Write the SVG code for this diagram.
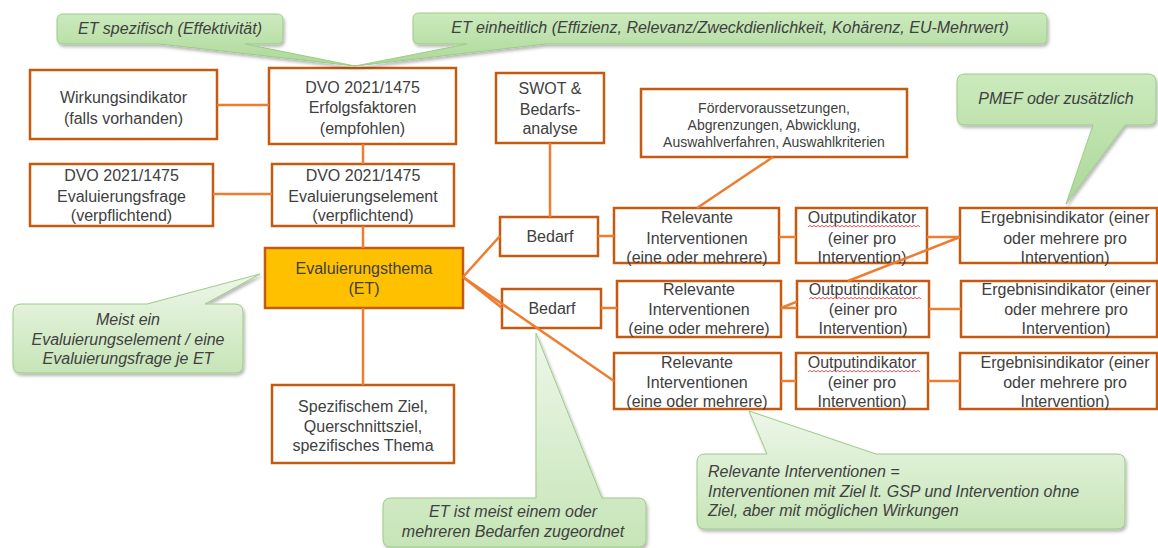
<svg xmlns="http://www.w3.org/2000/svg" width="1158" height="548" viewBox="0 0 1158 548">
<style>
.box{fill:#fff;stroke:#C55A11;stroke-width:2.5}
.et{fill:#FFC000;stroke:#C55A11;stroke-width:2.5}
.con{fill:none;stroke:#ED7D31;stroke-width:2.5}
.t{font-family:"Liberation Sans",Arial,sans-serif;font-size:16px;fill:#404040;text-anchor:middle}
.ts{font-family:"Liberation Sans",Arial,sans-serif;font-size:14px;fill:#404040;text-anchor:middle}
.ci{font-family:"Liberation Sans",Arial,sans-serif;font-size:16px;font-style:italic;fill:#404040}
.cA{fill:url(#gA);stroke:#9CCB86;stroke-width:1;filter:url(#sh)}
.cB{fill:url(#gB);stroke:#9CCB86;stroke-width:1;filter:url(#sh)}
.sq{fill:none;stroke:#E04040;stroke-width:0.9}
</style>
<defs>
<linearGradient id="gA" x1="0" y1="0" x2="0" y2="1">
<stop offset="0" stop-color="#CBEABD"/>
<stop offset="1" stop-color="#ADD899"/>
</linearGradient>
<linearGradient id="gB" x1="0" y1="0" x2="0" y2="1">
<stop offset="0" stop-color="#EEF7EA"/>
<stop offset="1" stop-color="#C6E5B7"/>
</linearGradient>
<filter id="sh" x="-10%" y="-10%" width="130%" height="140%">
<feDropShadow dx="1.5" dy="2.5" stdDeviation="1.8" flood-color="#000" flood-opacity="0.28"/>
</filter>
<path id="squig" d="M0,0 l2,-1.6 l2,1.6 l2,-1.6 l2,1.6 l2,-1.6 l2,1.6 l2,-1.6 l2,1.6 l2,-1.6 l2,1.6 l2,-1.6 l2,1.6 l2,-1.6 l2,1.6 l2,-1.6 l2,1.6 l2,-1.6 l2,1.6 l2,-1.6 l2,1.6 l2,-1.6 l2,1.6 l2,-1.6 l2,1.6 l2,-1.6 l2,1.6 l2,-1.6 l2,1.6 l2,-1.6 l2,1.6 l2,-1.6 l2,1.6 l2,-1.6 l2,1.6 l2,-1.6 l2,1.6 l2,-1.6 l2,1.6 l2,-1.6 l2,1.6 l2,-1.6 l2,1.6 l2,-1.6 l2,1.6 l2,-1.6 l2,1.6 l2,-1.6 l2,1.6 l2,-1.6 l2,1.6 l2,-1.6 l2,1.6 l2,-1.6 l2,1.6 l2,-1.6 l2,1.6"/>
</defs>
<rect width="1158" height="548" fill="#fff"/>

<g id="nodes">
<g id="n-wirkung"><rect class="box" x="30" y="70" width="187" height="69"/>
<text class="t" x="123.5" y="102.5">Wirkungsindikator</text><text class="t" x="123.5" y="123.5">(falls vorhanden)</text></g>
<g id="n-erfolg"><rect class="box" x="269" y="68" width="187" height="76"/>
<text class="t" x="362.5" y="92.5">DVO 2021/1475</text><text class="t" x="362.5" y="112.5">Erfolgsfaktoren</text><text class="t" x="362.5" y="133.5">(empfohlen)</text></g>
<g id="n-frage"><rect class="box" x="30" y="164" width="183" height="62"/>
<text class="t" x="121.5" y="180.5">DVO 2021/1475</text><text class="t" x="121.5" y="201.5">Evaluierungsfrage</text><text class="t" x="121.5" y="220.5">(verpflichtend)</text></g>
<g id="n-element"><rect class="box" x="272" y="164" width="182" height="62"/>
<text class="t" x="363" y="180.5">DVO 2021/1475</text><text class="t" x="363" y="201.5">Evaluierungselement</text><text class="t" x="363" y="220.5">(verpflichtend)</text></g>
<g id="n-et"><rect class="et" x="265" y="248" width="198" height="60"/>
<text class="t" x="364" y="273.5">Evaluierungsthema</text><text class="t" x="364" y="293.5">(ET)</text></g>
<g id="n-ziel"><rect class="box" x="272" y="385" width="182" height="78"/>
<text class="t" x="363" y="411.5">Spezifischem Ziel,</text><text class="t" x="363" y="431.5">Querschnittsziel,</text><text class="t" x="363" y="450.5">spezifisches Thema</text></g>
<g id="n-swot"><rect class="box" x="496" y="73" width="108" height="70"/>
<text class="t" x="550" y="93.5">SWOT &amp;</text><text class="t" x="550" y="114.5">Bedarfs-</text><text class="t" x="550" y="133.5">analyse</text></g>
<g id="n-foerder"><rect class="box" x="641" y="89" width="266" height="68"/>
<text class="ts" x="774" y="113">Fördervoraussetzungen,</text><text class="ts" x="774" y="130">Abgrenzungen, Abwicklung,</text><text class="ts" x="774" y="146.5">Auswahlverfahren, Auswahlkriterien</text></g>
<g id="n-bedarf1"><rect class="box" x="500" y="217" width="98" height="39"/>
<text class="t" x="550" y="241.5">Bedarf</text></g>
<g id="n-bedarf2"><rect class="box" x="502" y="289" width="99" height="39"/>
<text class="t" x="552" y="313.5">Bedarf</text></g>
<g id="n-rel1"><rect class="box" x="614" y="208" width="165" height="55"/>
<text class="t" x="697" y="222.5">Relevante</text><text class="t" x="697" y="243.5">Interventionen</text><text class="t" x="697" y="262.5">(eine oder mehrere)</text></g>
<g id="n-rel2"><rect class="box" x="617" y="281" width="164" height="56"/>
<text class="t" x="699" y="294.5">Relevante</text><text class="t" x="699" y="314.5">Interventionen</text><text class="t" x="699" y="333.5">(eine oder mehrere)</text></g>
<g id="n-rel3"><rect class="box" x="614" y="353" width="167" height="56"/>
<text class="t" x="697" y="367.5">Relevante</text><text class="t" x="697" y="387.5">Interventionen</text><text class="t" x="697" y="406.5">(eine oder mehrere)</text></g>
<g id="n-out1"><rect class="box" x="796" y="208" width="131" height="55"/>
<text class="t" x="862" y="222.5">Outputindikator</text><use href="#squig" class="sq" x="808" y="227"/><text class="t" x="862" y="243.5">(einer pro</text><text class="t" x="862" y="262.5">Intervention)</text></g>
<g id="n-out2"><rect class="box" x="797" y="281" width="132" height="56"/>
<text class="t" x="863" y="294.5">Outputindikator</text><use href="#squig" class="sq" x="809" y="299"/><text class="t" x="863" y="314.5">(einer pro</text><text class="t" x="863" y="333.5">Intervention)</text></g>
<g id="n-out3"><rect class="box" x="796" y="353" width="132" height="56"/>
<text class="t" x="862" y="367.5">Outputindikator</text><use href="#squig" class="sq" x="808" y="372"/><text class="t" x="862" y="387.5">(einer pro</text><text class="t" x="862" y="406.5">Intervention)</text></g>
<g id="n-erg1"><rect class="box" x="960" y="208" width="197" height="55"/>
<text class="t" x="1065" y="222.5">Ergebnisindikator (einer</text><text class="t" x="1065" y="243.5">oder mehrere pro</text><text class="t" x="1065" y="262.5">Intervention)</text></g>
<g id="n-erg2"><rect class="box" x="961" y="281" width="196" height="56"/>
<text class="t" x="1066" y="294.5">Ergebnisindikator (einer</text><text class="t" x="1066" y="314.5">oder mehrere pro</text><text class="t" x="1066" y="333.5">Intervention)</text></g>
<g id="n-erg3"><rect class="box" x="960" y="353" width="197" height="56"/>
<text class="t" x="1065" y="367.5">Ergebnisindikator (einer</text><text class="t" x="1065" y="387.5">oder mehrere pro</text><text class="t" x="1065" y="406.5">Intervention)</text></g>
</g>

<g id="connectors">
<path class="con" d="M217,105 H269"/>
<path class="con" d="M363,144 V164"/>
<path class="con" d="M213,194 H272"/>
<path class="con" d="M363,226 V248"/>
<path class="con" d="M363,308 V385"/>
<path class="con" d="M550,143 V217"/>
<path class="con" d="M773,157 L697,208"/>
<path class="con" d="M463,277 L500,236"/>
<path class="con" d="M463,277 L502,308"/>
<path class="con" d="M463,277 L614,381"/>
<path class="con" d="M598,236 H614"/>
<path class="con" d="M779,237 H796"/>
<path class="con" d="M927,237 H960"/>
<path class="con" d="M601,308 H617"/>
<path class="con" d="M781,308 H797"/>
<path class="con" d="M781,308 L797,301.6"/>
<path class="con" d="M848,281 L960,237"/>
<path class="con" d="M929,309 H961"/>
<path class="con" d="M781,381 H796"/>
<path class="con" d="M928,381 H960"/>
</g>

<g id="callouts">
<g id="c-spez"><path class="cA" d="M63,14 H277 Q283,14 283,20 V38 Q283,44 277,44 H245 L355,66 L160,44 H63 Q57,44 57,38 V20 Q57,14 63,14 Z"/>
<text class="ci" x="170" y="34" text-anchor="middle">ET spezifisch (Effektivität)</text></g>
<g id="c-einh"><path class="cA" d="M419,13 H1041 Q1047,13 1047,19 V38 Q1047,44 1041,44 H545 L355,66 L467,44 H419 Q413,44 413,38 V19 Q413,13 419,13 Z"/>
<text class="ci" x="730" y="33" text-anchor="middle">ET einheitlich (Effizienz, Relevanz/Zweckdienlichkeit, Kohärenz, EU-Mehrwert)</text></g>
<g id="c-pmef"><path class="cA" d="M965,74 H1148 Q1156,74 1156,82 V117 Q1156,125 1148,125 H1125 L1066,204 L1093,125 H965 Q957,125 957,117 V82 Q957,74 965,74 Z"/>
<text class="ci" x="1056" y="104" text-anchor="middle">PMEF oder zusätzlich</text></g>
<g id="c-meist"><path class="cB" d="M21,304 H147 L260,274 L205,304 H235 Q243,304 243,312 V365 Q243,373 235,373 H21 Q13,373 13,365 V312 Q13,304 21,304 Z"/>
<text class="ci" x="128" y="325" text-anchor="middle">Meist ein</text><text class="ci" x="128" y="345" text-anchor="middle">Evaluierungselement / eine</text><text class="ci" x="128" y="364" text-anchor="middle">Evaluierungsfrage je ET</text></g>
<g id="c-bedarf"><path class="cB" d="M391,498 H536 L536,333 L602,498 H638 Q646,498 646,506 V539 Q646,547 638,547 H391 Q383,547 383,539 V506 Q383,498 391,498 Z"/>
<text class="ci" x="513" y="517" text-anchor="middle">ET ist meist einem oder</text><text class="ci" x="513" y="537" text-anchor="middle">mehreren Bedarfen zugeordnet</text></g>
<g id="c-relint"><path class="cB" d="M705,454 H767 L749,411 L876,454 H1117 Q1125,454 1125,462 V521 Q1125,529 1117,529 H705 Q697,529 697,521 V462 Q697,454 705,454 Z"/>
<text class="ci" x="708" y="477">Relevante Interventionen =</text><text class="ci" x="708" y="497">Interventionen mit Ziel lt. GSP und Intervention ohne</text><text class="ci" x="708" y="516">Ziel, aber mit möglichen Wirkungen</text></g>
</g>
</svg>
